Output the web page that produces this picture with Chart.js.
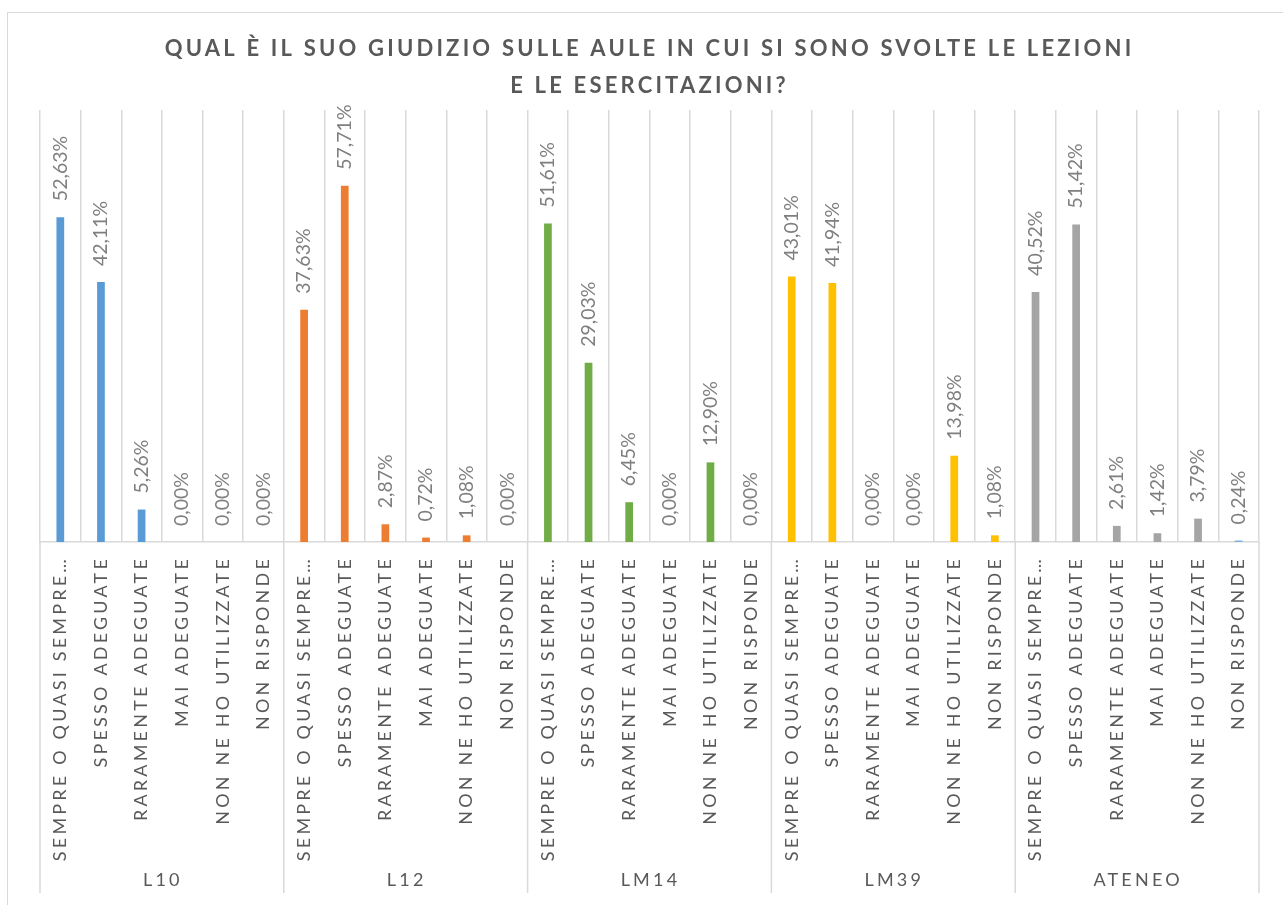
<!DOCTYPE html>
<html>
<head>
<meta charset="utf-8">
<script src="https://cdn.jsdelivr.net/npm/chart.js@4/dist/chart.umd.min.js"></script>
<style>
  body { margin: 0; overflow: hidden; background: #fff; }
  #frame { position: absolute; left: 7px; top: 12px; width: 1400px; height: 1000px;
           border-left: 1px solid #d9d9d9; border-top: 1px solid #d9d9d9; pointer-events: none; }
  canvas { position: absolute; left: 0; top: 0; }
</style>
</head>
<body>
<div id="frame"></div>
<canvas id="aule-chart" width="1283" height="905"></canvas>
<script>
'use strict';

// ******** DATA **************
let groups = ['L10', 'L12', 'LM14', 'LM39', 'ATENEO'];
let answers = ['SEMPRE O QUASI SEMPRE…', 'SPESSO ADEGUATE', 'RARAMENTE ADEGUATE', 'MAI ADEGUATE', 'NON NE HO UTILIZZATE', 'NON RISPONDE'];

let valuesL10 = [52.63, 42.11, 5.26, 0.00, 0.00, 0.00];
let valuesL12 = [37.63, 57.71, 2.87, 0.72, 1.08, 0.00];
let valuesLM14 = [51.61, 29.03, 6.45, 0.00, 12.90, 0.00];
let valuesLM39 = [43.01, 41.94, 0.00, 0.00, 13.98, 1.08];
let valuesAteneo = [40.52, 51.42, 2.61, 1.42, 3.79, 0.24];

let groupColors = ['#5b9bd5', '#ed7d31', '#70ad47', '#ffc000', '#a5a5a5'];

// ******** BUILD CHART INPUT **************
let allValues = [valuesL10, valuesL12, valuesLM14, valuesLM39, valuesAteneo];
let labels = [];
let data = [];
let colors = [];
for (let g = 0; g < groups.length; g++) {
  for (let i = 0; i < answers.length; i++) {
    labels.push(answers[i]);
    data.push(allValues[g][i]);
    colors.push(groupColors[g]);
  }
}
// the last ATENEO bar is drawn in light blue in the original
colors[colors.length - 1] = '#7fb0de';

let textSpacing = '3.2px';
let fontName = 'Lato, "Open Sans", sans-serif';

// ******** PLUGINS **************
let spacingPlugin = {
  id: 'spacing',
  beforeLayout(chart) { chart.ctx.letterSpacing = textSpacing; },
  beforeDraw(chart) { chart.ctx.letterSpacing = textSpacing; }
};

let valueLabelsPlugin = {
  id: 'valueLabels',
  afterDatasetsDraw(chart) {
    let ctx = chart.ctx;
    let meta = chart.getDatasetMeta(0);
    ctx.save();
    ctx.letterSpacing = '0px';
    ctx.font = '19.5px ' + fontName;
    ctx.fillStyle = '#7f7f7f';
    ctx.textAlign = 'left';
    ctx.textBaseline = 'middle';
    meta.data.forEach(function (bar, i) {
      let txt = data[i].toFixed(2).replace('.', ',') + '%';
      ctx.save();
      ctx.translate(bar.x, bar.y - 16);
      ctx.rotate(-Math.PI / 2);
      ctx.fillText(txt, 0, 0);
      ctx.restore();
    });
    ctx.restore();
  }
};

let groupAxisPlugin = {
  id: 'groupAxis',
  afterDraw(chart) {
    let ctx = chart.ctx;
    let x = chart.scales.x;
    let half = x.width / labels.length / 2;
    let top = chart.chartArea.bottom;
    let bottom = 893;
    ctx.save();
    ctx.strokeStyle = '#d9d9d9';
    ctx.lineWidth = 1.5;
    for (let g = 0; g <= groups.length; g++) {
      let px = g < groups.length ? x.getPixelForValue(g * answers.length) - half
                                 : x.getPixelForValue(labels.length - 1) + half;
      ctx.beginPath();
      ctx.moveTo(px, top);
      ctx.lineTo(px, bottom);
      ctx.stroke();
    }
    ctx.letterSpacing = textSpacing;
    ctx.font = '18px ' + fontName;
    ctx.fillStyle = '#595959';
    ctx.textAlign = 'center';
    ctx.textBaseline = 'middle';
    for (let g = 0; g < groups.length; g++) {
      let a = x.getPixelForValue(g * answers.length);
      let b = x.getPixelForValue(g * answers.length + answers.length - 1);
      ctx.fillText(groups[g], (a + b) / 2 + 1, 880);
    }
    ctx.restore();
  }
};

// ******** CHART **************
let chartCanvas = document.getElementById('aule-chart');

let chartSettings = {
  type: 'bar',
  data: {
    labels: labels,
    datasets: [{
      data: data,
      backgroundColor: colors,
      barPercentage: 0.19,
      categoryPercentage: 1
    }]
  },
  options: {
    responsive: false,
    animation: false,
    layout: {
      padding: { top: 0, left: 40, right: 24, bottom: 33 }
    },
    plugins: {
      legend: { display: false },
      tooltip: { enabled: false },
      title: {
        display: true,
        text: ['QUAL È IL SUO GIUDIZIO SULLE AULE IN CUI SI SONO SVOLTE LE LEZIONI', 'E LE ESERCITAZIONI?'],
        color: '#595959',
        font: { family: fontName, size: 22, weight: 'bold', lineHeight: 1.68 },
        padding: { top: 30, bottom: 6 }
      }
    },
    scales: {
      x: {
        grid: { color: '#d9d9d9', lineWidth: 1.5, drawTicks: false, offset: true },
        border: { color: '#d9d9d9', width: 1.5 },
        ticks: {
          color: '#595959',
          font: { family: fontName, size: 18 },
          minRotation: 90,
          maxRotation: 90,
          autoSkip: false,
          padding: 14
        },
        afterFit(scale) { scale.height = 330; }
      },
      y: {
        display: false,
        min: 0,
        max: 70
      }
    }
  },
  plugins: [spacingPlugin, valueLabelsPlugin, groupAxisPlugin]
};

new Chart(chartCanvas, chartSettings);
</script>
</body>
</html>
